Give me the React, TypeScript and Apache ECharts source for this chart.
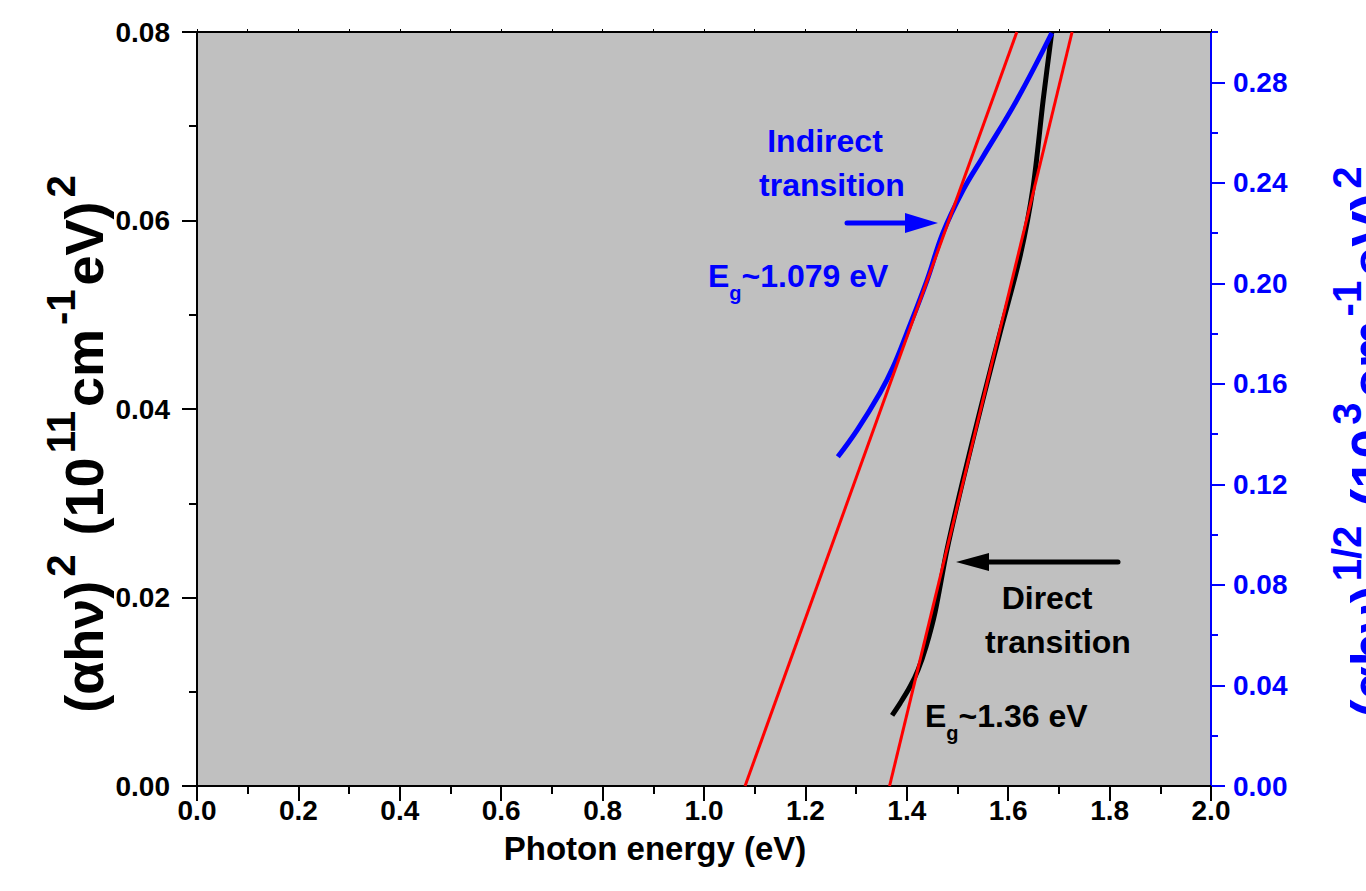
import React, { useEffect, useRef } from 'react';
import * as echarts from 'echarts';

// Photon energy axis ticks
const xMin = 0;
const xMax = 2.0;
const xInterval = 0.2;
// Left axis: (αhν)^2
const yLeftMax = 0.08;
const yLeftInterval = 0.02;
// Right axis: (αhν)^1/2
const yRightMax = 0.3;
const yRightInterval = 0.04;
const yRightLabelValues = [0, 0.04, 0.08, 0.12, 0.16, 0.2, 0.24, 0.28];

// Direct transition curve (left axis)
const directCurve: [number, number][] = [
  [1.371, 0.0075],
  [1.387, 0.0088],
  [1.406, 0.0105],
  [1.422, 0.0123],
  [1.438, 0.0148],
  [1.456, 0.0185],
  [1.479, 0.025],
  [1.511, 0.0325],
  [1.55, 0.041],
  [1.584, 0.0481],
  [1.623, 0.0561],
  [1.649, 0.0635],
  [1.669, 0.0728],
  [1.686, 0.08],
];
// Indirect transition curve (right axis)
const indirectCurve: [number, number][] = [
  [1.264, 0.131],
  [1.302, 0.1416],
  [1.347, 0.1564],
  [1.373, 0.1667],
  [1.4, 0.1802],
  [1.44, 0.2013],
  [1.471, 0.22],
  [1.511, 0.2371],
  [1.55, 0.2503],
  [1.617, 0.2729],
  [1.686, 0.2996],
];
// Linear fits
const directFit: [number, number][] = [
  [1.366, 0],
  [1.726, 0.08],
];
const indirectFit: [number, number][] = [
  [1.081, 0],
  [1.617, 0.3],
];

const FONT = 'Liberation Sans';
const BLUE = '#0000ff';

export default function App() {
  const ref = useRef<HTMLDivElement>(null);
  useEffect(() => {
    if (!ref.current) return;
    const chart = echarts.init(ref.current, null, { renderer: 'svg' });
    const labelBase = { fontFamily: FONT, fontWeight: 'bold' as const, fontSize: 28 };
    const titleRich = (color: string) => ({
      m: { fontFamily: FONT, fontWeight: 'bold', fontSize: 54, lineHeight: 87, color },
      s: {
        fontFamily: FONT,
        fontWeight: 'bold',
        fontSize: 40,
        lineHeight: 10,
        verticalAlign: 'top',
        padding: [0, 4, 0, 4],
        color,
      },
    });
    const egRich = (color: string) => ({
      m: { fontFamily: FONT, fontWeight: 'bold', fontSize: 32, lineHeight: 54, color },
      b: { fontFamily: FONT, fontWeight: 'bold', fontSize: 20, lineHeight: 10, verticalAlign: 'bottom', color },
    });
    chart.setOption({
      animation: false,
      grid: {
        left: 197,
        right: 155,
        top: 32,
        bottom: 105,
        show: true,
        backgroundColor: '#c0c0c0',
        borderWidth: 0,
      },
      xAxis: [
        {
          type: 'value',
          min: xMin,
          max: xMax,
          interval: xInterval,
          position: 'bottom',
          axisLine: { onZero: false, lineStyle: { color: '#000', width: 2 } },
          axisTick: { length: 15, lineStyle: { color: '#000', width: 2 } },
          minorTick: { show: true, splitNumber: 2, length: 8, lineStyle: { color: '#000', width: 2 } },
          splitLine: { show: false },
          axisLabel: { ...labelBase, color: '#000', margin: 10, formatter: (v: number) => v.toFixed(1) },
        },
        {
          type: 'value',
          min: xMin,
          max: xMax,
          interval: 0.1,
          position: 'top',
          axisLine: { onZero: false, lineStyle: { color: '#000', width: 2 } },
          axisTick: { length: 3, lineStyle: { color: '#000', width: 1 } },
          splitLine: { show: false },
          axisLabel: { show: false },
        },
      ],
      yAxis: [
        {
          type: 'value',
          min: 0,
          max: yLeftMax,
          interval: yLeftInterval,
          position: 'left',
          axisLine: { show: true, onZero: false, lineStyle: { color: '#000', width: 2 } },
          axisTick: { show: true, length: 15, lineStyle: { color: '#000', width: 2 } },
          minorTick: { show: true, splitNumber: 2, length: 8, lineStyle: { color: '#000', width: 2 } },
          splitLine: { show: false },
          axisLabel: { ...labelBase, color: '#000', margin: 27, formatter: (v: number) => v.toFixed(2) },
        },
        {
          type: 'value',
          min: 0,
          max: yRightMax,
          interval: yRightInterval,
          position: 'right',
          axisLine: { show: true, onZero: false, lineStyle: { color: BLUE, width: 2 } },
          axisTick: { show: true, length: 14, customValues: yRightLabelValues, lineStyle: { color: BLUE, width: 2 } },
          splitLine: { show: false },
          axisLabel: {
            ...labelBase,
            color: BLUE,
            margin: 22,
            customValues: yRightLabelValues,
            formatter: (v: number) => (v > 0.29 ? '' : v.toFixed(2)),
          },
        },
        {
          type: 'value',
          min: 0,
          max: yRightMax,
          interval: 0.02,
          position: 'right',
          offset: 0,
          axisLine: { show: true, onZero: false, lineStyle: { color: BLUE, width: 2 } },
          axisTick: { show: true, length: 7, lineStyle: { color: BLUE, width: 2 } },
          splitLine: { show: false },
          axisLabel: { show: false },
        },
      ],
      series: [
        {
          type: 'line',
          xAxisIndex: 0,
          yAxisIndex: 0,
          data: directCurve,
          smooth: 0.3,
          symbol: 'none',
          lineStyle: { color: '#000', width: 5 },
          z: 2,
        },
        {
          type: 'line',
          xAxisIndex: 0,
          yAxisIndex: 1,
          data: indirectCurve,
          smooth: 0.4,
          symbol: 'none',
          lineStyle: { color: BLUE, width: 5 },
          z: 2,
        },
        {
          type: 'line',
          xAxisIndex: 0,
          yAxisIndex: 0,
          data: directFit,
          symbol: 'none',
          lineStyle: { color: '#ff0000', width: 3 },
          z: 3,
        },
        {
          type: 'line',
          xAxisIndex: 0,
          yAxisIndex: 1,
          data: indirectFit,
          symbol: 'none',
          lineStyle: { color: '#ff0000', width: 3 },
          z: 3,
        },
      ],
      graphic: [
        {
          type: 'text',
          x: 84,
          y: 442,
          rotation: Math.PI / 2,
          style: {
            text: '{m|(αhν)}{s|2}{m| (10}{s|11}{m|cm}{s|-1}{m|eV)}{s|2}',
            rich: titleRich('#000'),
            align: 'center',
            verticalAlign: 'middle',
            fill: '#000',
          },
        },
        {
          type: 'text',
          x: 1370,
          y: 440,
          rotation: Math.PI / 2,
          style: {
            text: '{m|(αhν)}{s|1/2}{m| (10}{s|3}{m|cm}{s|-1}{m|eV)}{s|2}',
            rich: titleRich(BLUE),
            align: 'center',
            verticalAlign: 'middle',
            fill: BLUE,
          },
        },
        {
          type: 'text',
          x: 655,
          y: 848,
          style: {
            text: 'Photon energy (eV)',
            font: `bold 33px "${FONT}"`,
            align: 'center',
            verticalAlign: 'middle',
            fill: '#000',
          },
        },
        // Indirect annotation
        {
          type: 'text',
          x: 825,
          y: 141,
          style: { text: 'Indirect', font: `bold 32px "${FONT}"`, align: 'center', verticalAlign: 'middle', fill: BLUE },
        },
        {
          type: 'text',
          x: 832,
          y: 185,
          style: { text: 'transition', font: `bold 32px "${FONT}"`, align: 'center', verticalAlign: 'middle', fill: BLUE },
        },
        {
          type: 'line',
          shape: { x1: 847, y1: 223, x2: 910, y2: 223 },
          style: { stroke: BLUE, lineWidth: 5, lineCap: 'round' },
        },
        {
          type: 'polygon',
          shape: { points: [[938, 223], [905, 213], [905, 233]] },
          style: { fill: BLUE },
        },
        {
          type: 'text',
          x: 708,
          y: 276,
          style: { text: '{m|E}{b|g}{m|~1.079 eV}', rich: egRich(BLUE), align: 'left', verticalAlign: 'middle', fill: BLUE },
        },
        // Direct annotation
        {
          type: 'line',
          shape: { x1: 1118, y1: 562, x2: 985, y2: 562 },
          style: { stroke: '#000', lineWidth: 5, lineCap: 'round' },
        },
        {
          type: 'polygon',
          shape: { points: [[956, 562], [989, 553], [989, 571]] },
          style: { fill: '#000' },
        },
        {
          type: 'text',
          x: 1047,
          y: 598,
          style: { text: 'Direct', font: `bold 32px "${FONT}"`, align: 'center', verticalAlign: 'middle', fill: '#000' },
        },
        {
          type: 'text',
          x: 1058,
          y: 642,
          style: { text: 'transition', font: `bold 32px "${FONT}"`, align: 'center', verticalAlign: 'middle', fill: '#000' },
        },
        {
          type: 'text',
          x: 925,
          y: 716,
          style: { text: '{m|E}{b|g}{m|~1.36 eV}', rich: egRich('#000'), align: 'left', verticalAlign: 'middle', fill: '#000' },
        },
      ],
    });
    return () => chart.dispose();
  }, []);
  return (
    <div
      ref={ref}
      style={{ position: 'fixed', left: 0, top: 0, width: 1366, height: 891, background: '#fff' }}
    />
  );
}
